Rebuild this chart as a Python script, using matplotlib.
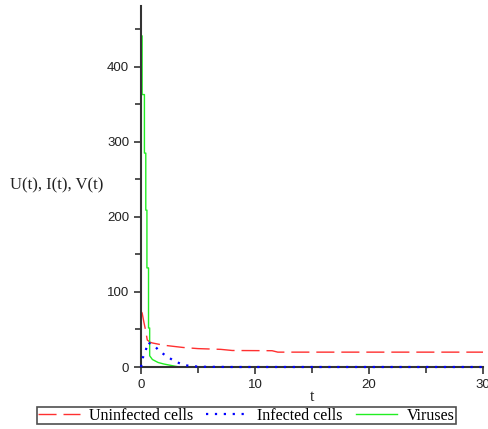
import matplotlib
matplotlib.use("Agg")
import matplotlib.pyplot as plt
from matplotlib.ticker import MultipleLocator

# Data
t_U = [0, 0.1, 0.25, 0.4, 0.55, 0.8, 1.0, 2.0, 3.7, 5, 7, 8, 11.5, 12, 20, 30]
U = [74, 72, 60, 49, 36, 33, 32, 29, 26, 24.5, 23.5, 22, 21.7, 19.8, 19.8, 19.8]

t_I = [0, 0.15, 0.4, 0.6, 0.9, 1.25, 1.7, 2.3, 2.9, 3.7, 4.4, 5.5, 8, 30]
I = [0, 12, 21, 33, 30, 27, 20, 14, 8, 3, 1, 0.3, 0, 0]

t_V = [0.1, 0.1, 0.3, 0.3, 0.42, 0.42, 0.52, 0.52, 0.66, 0.66, 0.76, 0.76,
       1.0, 1.5, 2.0, 2.5, 3.0, 3.4, 30]
V = [441, 363, 363, 285, 285, 209, 209, 132, 132, 52, 52, 15,
     10, 6, 4, 2.5, 1, 0, 0]

labels = ["Uninfected cells", "Infected cells", "Viruses"]
x_ticks = [0, 10, 20, 30]
y_ticks = [0, 100, 200, 300, 400]

W, H = 489, 429
fig = plt.figure(figsize=(W / 100, H / 100), dpi=100)
ax = fig.add_axes([141 / W, 1 - 367 / H, (483 - 141) / W, (367 - 6) / H])

lU, = ax.plot(t_U, U, color="#ff3030", lw=1.0, dashes=(13, 5), zorder=2, label=labels[0])
lI, = ax.plot(t_I, I, color="#0000ff", lw=1.6, linestyle=(0, (1, 3)), zorder=3,
              clip_on=False, label=labels[1])
lV, = ax.plot(t_V, V, color="#22ee22", lw=1.0, zorder=2, label=labels[2])

ax.set_xlim(0, 30)
ax.set_ylim(0, 481)
for s in ["top", "right"]:
    ax.spines[s].set_visible(False)
for s in ["left", "bottom"]:
    ax.spines[s].set_color("#333333")
    ax.spines[s].set_linewidth(1.5)

ax.set_xticks(x_ticks)
ax.set_yticks(y_ticks)
ax.xaxis.set_minor_locator(MultipleLocator(5))
ax.yaxis.set_minor_locator(MultipleLocator(50))
ax.tick_params(axis="both", which="major", length=5, width=1.2, color="#333333",
               labelsize=9.5, labelcolor="#222222", direction="out")
ax.tick_params(axis="both", which="minor", length=4, width=1.2, color="#333333", direction="out")
for lab in ax.get_xticklabels() + ax.get_yticklabels():
    lab.set_family("Liberation Sans")

fig.text(10 / W, 1 - 185 / H, "U(t), I(t), V(t)", family="Liberation Serif",
         fontsize=12, ha="left", va="center", color="#222222")
fig.text(312 / W, 1 - 397 / H, "t", family="Liberation Serif",
         fontsize=11.5, ha="center", va="center", color="#222222")

leg = fig.legend(handles=[lU, lI, lV], labels=labels, loc="center",
                 bbox_to_anchor=(246.5 / W, 1 - 415.5 / H), ncol=3,
                 frameon=True, fancybox=False, edgecolor="#222222",
                 prop={"family": "Liberation Serif", "size": 11.5},
                 handlelength=2.6, handletextpad=0.6, columnspacing=0.8,
                 borderpad=0.05, borderaxespad=0)
leg.get_frame().set_linewidth(1.2)

fig.savefig("out.png", dpi=100)
